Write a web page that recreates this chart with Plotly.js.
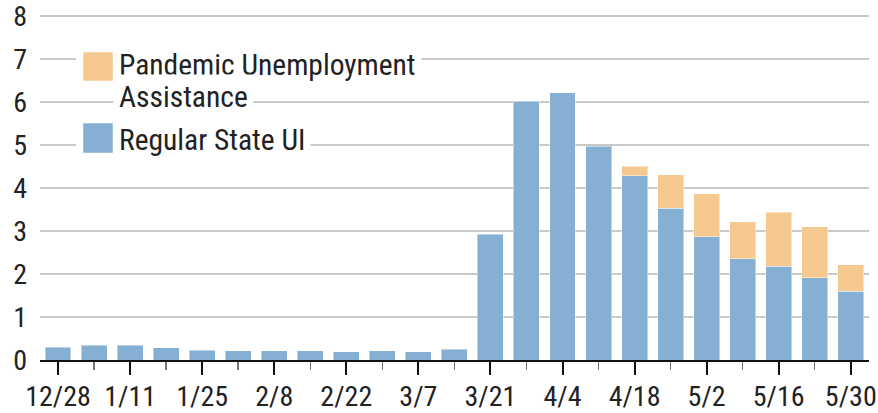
<!DOCTYPE html>
<html>
<head>
<meta charset="utf-8">
<script src="https://cdn.plot.ly/plotly-3.0.1.min.js"></script>
<style>html,body{margin:0;padding:0;background:#fff}#chart{width:878px;height:413px}</style>
</head>
<body>
<div id="chart"></div>
<script>
// Week-ending dates (2019-12-28 .. 2020-05-30)
const weeks = ['2019-12-28','2020-01-04','2020-01-11','2020-01-18','2020-01-25','2020-02-01','2020-02-08','2020-02-15','2020-02-22','2020-02-29','2020-03-07','2020-03-14','2020-03-21','2020-03-28','2020-04-04','2020-04-11','2020-04-18','2020-04-25','2020-05-02','2020-05-09','2020-05-16','2020-05-23','2020-05-30'];
// Regular State UI initial claims (millions)
const regularStateUI = [0.30,0.34,0.34,0.28,0.23,0.22,0.22,0.21,0.19,0.22,0.19,0.25,2.92,6.02,6.21,4.97,4.29,3.53,2.87,2.36,2.18,1.91,1.60];
// Pandemic Unemployment Assistance (millions)
const pandemicUA = [null,null,null,null,null,null,null,null,null,null,null,null,null,null,null,null,0.21,0.78,0.99,0.85,1.25,1.19,0.61];
// Tick labels
const tickDates = ['2019-12-28','2020-01-11','2020-01-25','2020-02-08','2020-02-22','2020-03-07','2020-03-21','2020-04-04','2020-04-18','2020-05-02','2020-05-16','2020-05-30'];
const tickLabels = ['12/28','1/11','1/25','2/8','2/22','3/7','3/21','4/4','4/18','5/2','5/16','5/30'];
const yTicks = [0,1,2,3,4,5,6,7,8];
const seriesNames = ['Pandemic Unemployment', 'Assistance', 'Regular State UI'];

const FONT = '"Liberation Sans Narrow", "Roboto Condensed", "Arial Narrow", Roboto, sans-serif';
const BLUE = '#85afd3', ORANGE = '#f5c88f';

const traces = [
  {type:'bar', x:weeks, y:regularStateUI, name:'Regular State UI',
   marker:{color:BLUE, line:{color:'rgba(255,255,255,0.45)', width:1}}, showlegend:false, hoverinfo:'x+y'},
  {type:'bar', x:weeks, y:pandemicUA, name:'Pandemic Unemployment Assistance',
   marker:{color:ORANGE, line:{color:'rgba(255,255,255,0.45)', width:1}}, showlegend:false, hoverinfo:'x+y'}
];

// pixel -> paper helpers for the hand-built legend
const L=40, R=9, T=14, B=53, W=878, H=413;
const pw = W-L-R, ph = H-T-B;
const px = v => (v-L)/pw;
const py = v => (H-B-v)/ph;

const shapes = [
  {type:'rect', xref:'paper', yref:'paper', x0:px(76), x1:px(118), y0:py(88), y1:py(45), fillcolor:'#fff', line:{width:0}, layer:'above'},
  {type:'rect', xref:'paper', yref:'paper', x0:px(76), x1:px(118), y0:py(160), y1:py(116), fillcolor:'#fff', line:{width:0}, layer:'above'},
  {type:'rect', xref:'paper', yref:'paper', x0:px(83), x1:px(113), y0:py(81), y1:py(52), fillcolor:ORANGE, line:{color:'rgba(255,255,255,0.5)', width:1}, layer:'above'},
  {type:'rect', xref:'paper', yref:'paper', x0:px(83), x1:px(113), y0:py(153), y1:py(123), fillcolor:BLUE, line:{color:'rgba(255,255,255,0.5)', width:1}, layer:'above'}
];
const annFont = {family:FONT, size:29.5, color:'#222'};
const annotations = [
  {xref:'paper', yref:'paper', x:px(113), y:py(65), xanchor:'left', yanchor:'middle', text:seriesNames[0], showarrow:false, font:annFont, bgcolor:'#fff', borderpad:5},
  {xref:'paper', yref:'paper', x:px(113), y:py(97), xanchor:'left', yanchor:'middle', text:seriesNames[1], showarrow:false, font:annFont, bgcolor:'#fff', borderpad:5},
  {xref:'paper', yref:'paper', x:px(113), y:py(139.5), xanchor:'left', yanchor:'middle', text:seriesNames[2], showarrow:false, font:annFont, bgcolor:'#fff', borderpad:5}
];

const layout = {
  width:W, height:H,
  margin:{l:L, r:R, t:T, b:B, pad:0},
  paper_bgcolor:'#fff', plot_bgcolor:'#fff',
  barmode:'stack', bargap:0.28,
  showlegend:false,
  font:{family:FONT, size:28, color:'#222'},
  xaxis:{
    type:'date',
    range:['2019-12-24 12:00','2020-06-02 13:00'],
    tickmode:'array', tickvals:tickDates, ticktext:tickLabels,
    ticks:'outside', ticklen:13, tickwidth:2, tickcolor:'#111',
    ticklabelstandoff:-3, ticklabeloverflow:'allow',
    minor:{ticks:'outside', tick0:'2019-12-28', dtick:7*86400000, ticklen:8, tickwidth:1.5, tickcolor:'#777', showgrid:false},
    showline:true, linecolor:'#111', linewidth:2,
    showgrid:false, zeroline:false,
    tickfont:{family:FONT, size:28, color:'#222'},
    fixedrange:true
  },
  yaxis:{
    range:[0,8.045], tickmode:'array', tickvals:yTicks,
    showgrid:true, gridcolor:'#c9c9c9', gridwidth:1.5,
    zeroline:false, showline:false, ticks:'',
    ticklabelstandoff:12, ticklabeloverflow:'allow',
    tickfont:{family:FONT, size:28, color:'#222'},
    fixedrange:true
  },
  shapes:shapes,
  annotations:annotations
};

Plotly.newPlot('chart', traces, layout, {displayModeBar:false, staticPlot:true});
</script>
</body>
</html>
